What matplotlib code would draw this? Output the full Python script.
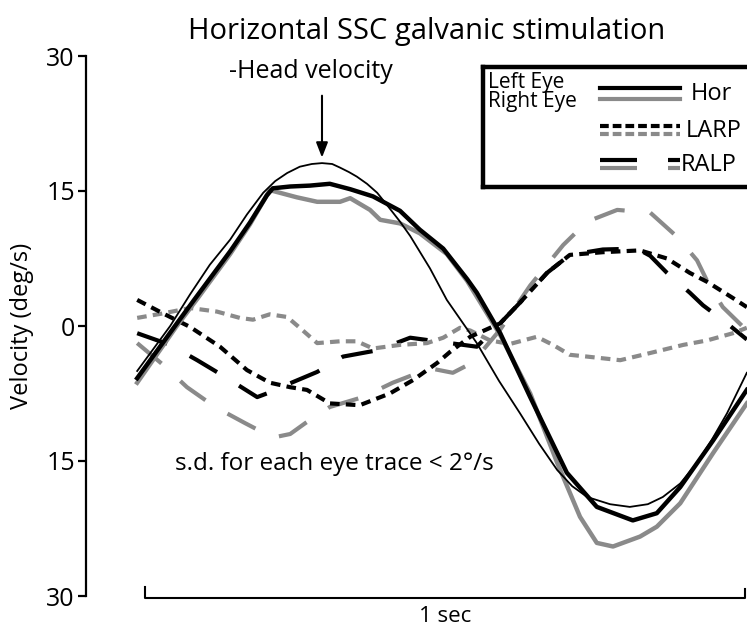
"""Horizontal SSC galvanic stimulation: head and eye velocity traces."""

import matplotlib
matplotlib.use("Agg")
import matplotlib.pyplot as plt

plt.rcParams["font.family"] = ["Open Sans", "DejaVu Sans"]

GRAY = "#8a8a8a"

# time (s) and velocity (deg/s)
head_t = [-0.013, 0.042, 0.075, 0.108, 0.142, 0.170, 0.197, 0.217, 0.237, 0.258, 0.278, 0.295, 0.312, 0.325,
          0.340, 0.353, 0.370, 0.387, 0.405, 0.425, 0.442, 0.475, 0.503, 0.553, 0.590, 0.625, 0.657, 0.687,
          0.712, 0.737, 0.775, 0.808, 0.838, 0.863, 0.892, 0.920, 0.945, 0.970, 1.003]
head_v = [-5.0, 0.0, 3.5, 6.8, 9.6, 12.4, 14.8, 16.1, 17.0, 17.7, 18.0, 18.1, 18.0, 17.6,
          17.1, 16.6, 15.8, 14.8, 13.3, 11.6, 10.0, 6.4, 2.9, -1.9, -6.1, -9.7, -13.1, -16.0,
          -17.8, -19.0, -19.8, -20.1, -19.8, -19.0, -17.5, -15.2, -12.6, -9.7, -5.2]

hor_left_t = [-0.013, 0.050, 0.083, 0.142, 0.175, 0.203, 0.213, 0.242, 0.275, 0.308, 0.342, 0.380, 0.425,
              0.458, 0.497, 0.537, 0.553, 0.592, 0.642, 0.703, 0.753, 0.813, 0.853, 0.892, 0.947, 1.003]
hor_left_v = [-5.8, 0.0, 3.0, 8.3, 11.5, 14.5, 15.3, 15.5, 15.6, 15.8, 15.2, 14.4, 12.8,
              10.7, 8.6, 5.2, 3.7, -0.8, -7.9, -16.3, -20.1, -21.6, -20.8, -17.9, -12.7, -7.1]

hor_right_t = [-0.013, 0.053, 0.087, 0.142, 0.175, 0.208, 0.253, 0.287, 0.325, 0.342, 0.375, 0.392, 0.425, 0.458,
               0.503, 0.537, 0.592, 0.642, 0.687, 0.725, 0.753, 0.780, 0.825, 0.853, 0.892, 0.947, 1.003]
hor_right_v = [-6.3, 0.0, 3.0, 8.0, 11.3, 15.1, 14.3, 13.8, 13.8, 14.2, 12.9, 11.8, 11.4, 10.3,
               8.0, 5.0, -1.0, -7.5, -15.2, -21.2, -24.1, -24.5, -23.4, -22.3, -19.7, -14.1, -8.6]

larp_left_t = [-0.013, 0.030, 0.075, 0.125, 0.170, 0.208, 0.242, 0.270, 0.308, 0.358, 0.408, 0.447, 0.487,
               0.508, 0.542, 0.592, 0.625, 0.670, 0.708, 0.763, 0.825, 0.870, 0.908, 0.937, 0.980, 1.003]
larp_left_v = [2.9, 1.4, -0.1, -2.3, -4.9, -6.3, -6.8, -7.1, -8.6, -8.8, -7.5, -6.0, -4.1,
               -2.9, -1.2, 0.3, 2.6, 5.9, 7.9, 8.2, 8.4, 7.5, 5.9, 4.9, 3.1, 2.1]

larp_right_t = [-0.013, 0.030, 0.075, 0.120, 0.158, 0.180, 0.208, 0.237, 0.258, 0.287, 0.325, 0.353, 0.380, 0.425, 0.470,
                0.497, 0.525, 0.542, 0.575, 0.608, 0.653, 0.680, 0.708, 0.737, 0.792, 0.842, 0.897, 0.937, 0.980, 1.003]
larp_right_v = [0.9, 1.4, 2.0, 1.6, 0.9, 0.7, 1.3, 1.0, -0.2, -1.9, -1.7, -1.7, -2.5, -2.1, -1.9,
                -1.3, -0.2, -0.5, -1.6, -2.0, -1.2, -2.1, -3.2, -3.4, -3.8, -3.0, -2.1, -1.6, -0.8, -0.2]

ralp_left_t = [-0.013, 0.042, 0.087, 0.137, 0.187, 0.203, 0.230, 0.287, 0.330, 0.387, 0.442, 0.497, 0.553,
               0.592, 0.625, 0.670, 0.708, 0.763, 0.820, 0.842, 0.870, 0.908, 0.930, 0.970, 1.003]
ralp_left_v = [-0.8, -2.1, -3.8, -5.8, -7.9, -7.5, -6.7, -5.1, -3.4, -2.7, -1.3, -1.8, -2.3,
               0.3, 2.6, 5.9, 7.9, 8.5, 8.6, 7.8, 5.9, 3.7, 2.3, 0.3, -1.5]

ralp_right_t = [-0.013, 0.030, 0.070, 0.117, 0.167, 0.213, 0.242, 0.267, 0.308, 0.363, 0.413, 0.475, 0.513,
                0.542, 0.563, 0.592, 0.642, 0.697, 0.737, 0.787, 0.842, 0.887, 0.920, 0.942, 0.963, 1.003]
ralp_right_v = [-1.9, -4.3, -6.8, -9.0, -10.8, -12.4, -12.0, -10.8, -9.0, -7.9, -6.3, -4.7, -5.2,
                -4.2, -2.7, -0.4, 4.5, 9.0, 11.6, 12.9, 12.6, 9.9, 7.3, 4.3, 2.1, -0.5]

y_ticks = [30, 15, 0, -15, -30]
y_tick_labels = ["30", "15", "0", "15", "30"]
scale_bar_sec = 1.0

LARP_DASH = (2.3, 1.5)
RALP_DASH = (7.6, 6.2)


def main() -> None:
    fig = plt.figure(figsize=(7.47, 6.31), dpi=100)
    ax = fig.add_axes([86 / 747, 35 / 631, 661 / 747, 540 / 631])

    ax.plot(ralp_right_t, ralp_right_v, color=GRAY, lw=3, dashes=RALP_DASH)
    ax.plot(ralp_left_t, ralp_left_v, color="black", lw=3, dashes=RALP_DASH)
    ax.plot(larp_right_t, larp_right_v, color=GRAY, lw=3, dashes=LARP_DASH)
    ax.plot(larp_left_t, larp_left_v, color="black", lw=3, dashes=LARP_DASH)
    ax.plot(hor_right_t, hor_right_v, color=GRAY, lw=3.2)
    ax.plot(hor_left_t, hor_left_v, color="black", lw=3.2)
    ax.plot(head_t, head_v, color="black", lw=1.3)

    ax.set_xlim(-0.0983, 1.0033)
    ax.set_ylim(-30, 30)
    ax.set_yticks(y_ticks)
    ax.set_yticklabels(y_tick_labels, fontsize=18)
    ax.set_xticks([])
    for side in ("top", "right", "bottom"):
        ax.spines[side].set_visible(False)
    ax.spines["left"].set_linewidth(1.6)
    ax.tick_params(axis="y", length=6, width=1.6, pad=2)
    ax.set_ylabel("Velocity (deg/s)", fontsize=17, labelpad=9)

    # 1 s scale bar
    ax.plot([0, 0, scale_bar_sec, scale_bar_sec], [-29.0, -30.25, -30.25, -29.2],
            color="black", lw=1.5, clip_on=False)
    ax.text(scale_bar_sec / 2, -31.1, "1 sec", ha="center", va="top", fontsize=16)

    peak = head_v.index(max(head_v))
    ax.annotate("", xy=(head_t[peak], head_v[peak] + 0.3), xytext=(head_t[peak], 25.9),
                arrowprops=dict(arrowstyle="-|>,head_length=0.9,head_width=0.35", color="black", lw=1.5))
    ax.text(0.140, 28.3, "-Head velocity", ha="left", va="center", fontsize=18)
    ax.text(0.050, -15.3, "s.d. for each eye trace < 2°/s", ha="left", va="center", fontsize=17.5)

    fig.text(427 / 747, 1 - 32 / 631, "Horizontal SSC galvanic stimulation",
             ha="center", va="center", fontsize=21)

    # hand-made legend box
    leg = fig.add_axes([483 / 747, 1 - 187 / 631, 290 / 747, 120 / 631])
    leg.set_xlim(483, 773)
    leg.set_ylim(187, 67)
    leg.set_xticks([])
    leg.set_yticks([])
    for sp in leg.spines.values():
        sp.set_linewidth(3.2)
    leg.text(488, 92, "Left Eye\nRight Eye", fontsize=15, va="center", ha="left", linespacing=0.85)
    leg.plot([600, 680], [88, 88], color="black", lw=3)
    leg.plot([600, 680], [99, 99], color=GRAY, lw=3)
    leg.text(691, 94, "Hor", fontsize=17, va="center", ha="left")
    leg.plot([600, 680], [126, 126], color="black", lw=3, dashes=(2.1, 0.95))
    leg.plot([600, 680], [134, 134], color=GRAY, lw=3, dashes=(2.1, 0.95))
    leg.text(686, 131, "LARP", fontsize=17, va="center", ha="left")
    for x0, x1 in ((600, 637), (668, 680)):
        leg.plot([x0, x1], [160, 160], color="black", lw=3, solid_capstyle="butt")
        leg.plot([x0, x1], [168, 168], color=GRAY, lw=3, solid_capstyle="butt")
    leg.text(681, 165, "RALP", fontsize=17, va="center", ha="left")

    fig.savefig("out.png", dpi=100)
    plt.close(fig)


if __name__ == "__main__":
    main()
